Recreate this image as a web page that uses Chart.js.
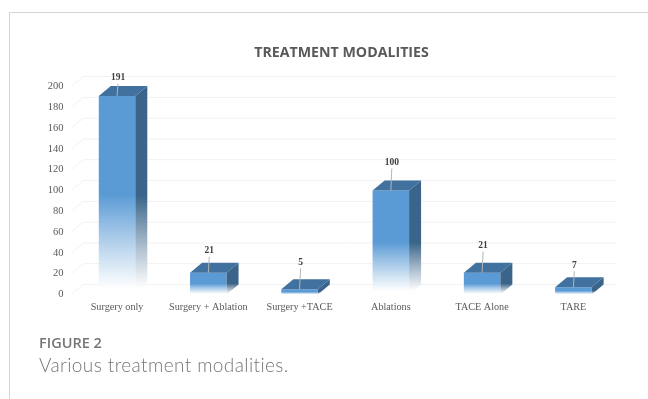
<!DOCTYPE html>
<html>
<head>
<meta charset="utf-8">
<title>Treatment modalities</title>
<script src="https://cdn.jsdelivr.net/npm/chart.js@4"></script>
<style>
    html, body { margin: 0; padding: 0; background: #fff; }
    body { width: 648px; height: 399px; overflow: hidden; position: relative; }
    #card { position: absolute; left: 9px; top: 12px; right: 0; bottom: 0; border-left: 1px solid #d4d4d4; border-top: 1px solid #d4d4d4; }
    #wrap { position: absolute; left: 0; top: 0; width: 648px; height: 399px; }
    .caption { position: absolute; left: 39px; color: #757575; white-space: nowrap; }
    #fig { top: 333px; font: 600 14.5px "Open Sans", sans-serif; }
    #desc { top: 353px; font: 300 19px Lato, sans-serif; letter-spacing: 0.4px; }
</style>
</head>
<body>
<div id="card"></div>
<div id="wrap"><canvas id="chart"></canvas></div>
<div class="caption" id="fig">FIGURE 2</div>
<div class="caption" id="desc">Various treatment modalities.</div>
<script>
const categories = ["Surgery only", "Surgery + Ablation", "Surgery +TACE", "Ablations", "TACE Alone", "TARE"];
const patientCounts = [191, 21, 5, 100, 21, 7];

// how far above each bar's front edge its value label sits
const labelLift = [18, 22, 27, 28, 27, 22];

const depthX = 12;
const depthY = -10;

// back wall gridlines plus the short diagonal running out to the axis
const backWall = {
    id: "backWall",
    afterLayout(chart) {
        // centre the title on the card instead of the padded chart box
        chart.titleBlock.left += 64;
    },
    beforeDatasetsDraw(chart) {
        const { ctx, scales: { x, y } } = chart;
        ctx.save();
        ctx.strokeStyle = "#f1f1f1";
        ctx.lineWidth = 1;
        y.ticks.forEach(tick => {
            const py = y.getPixelForValue(tick.value);
            ctx.beginPath();
            ctx.moveTo(x.left, py);
            ctx.lineTo(x.left + depthX, py + depthY);
            ctx.lineTo(x.right - 3, py + depthY);
            ctx.stroke();
        });
        ctx.restore();
    }
};

function fadeDown(ctx, top, bottom, color) {
    const g = ctx.createLinearGradient(0, top, 0, bottom);
    g.addColorStop(0, color);
    g.addColorStop(0.5, color);
    g.addColorStop(0.97, "rgba(255,255,255,0.9)");
    g.addColorStop(1, "rgba(255,255,255,0)");
    return g;
}

// top and side faces, leader lines and value labels on every bar
const barFaces = {
    id: "barFaces",
    afterDatasetsDraw(chart) {
        const { ctx } = chart;
        const meta = chart.getDatasetMeta(0);
        ctx.save();
        meta.data.forEach((bar, i) => {
            const left = bar.x - bar.width / 2;
            const right = bar.x + bar.width / 2;

            ctx.fillStyle = fadeDown(ctx, bar.y, bar.base, "#3a6489");
            ctx.beginPath();
            ctx.moveTo(right, bar.y);
            ctx.lineTo(right + depthX, bar.y + depthY);
            ctx.lineTo(right + depthX, bar.base + depthY);
            ctx.lineTo(right, bar.base);
            ctx.closePath();
            ctx.fill();

            ctx.fillStyle = "#41719f";
            ctx.beginPath();
            ctx.moveTo(left, bar.y);
            ctx.lineTo(left + depthX, bar.y + depthY);
            ctx.lineTo(right + depthX, bar.y + depthY);
            ctx.lineTo(right, bar.y);
            ctx.closePath();
            ctx.fill();

            const labelY = bar.y - labelLift[i];
            ctx.strokeStyle = "#b5b5b5";
            ctx.lineWidth = 1;
            ctx.beginPath();
            ctx.moveTo(bar.x, bar.y);
            ctx.lineTo(bar.x + 1, labelY + 6);
            ctx.stroke();

            ctx.fillStyle = "#404040";
            ctx.font = "bold 9.5px 'Liberation Serif'";
            ctx.textAlign = "center";
            ctx.textBaseline = "middle";
            ctx.fillText(patientCounts[i], bar.x + 1, labelY);
        });
        ctx.restore();
    }
};

new Chart(document.getElementById("chart"), {
    type: "bar",
    data: {
        labels: categories,
        datasets: [{
            data: patientCounts,
            barPercentage: 0.4,
            categoryPercentage: 1,
            backgroundColor: c => {
                const yScale = c.chart.scales.y;
                const top = yScale ? yScale.getPixelForValue(patientCounts[c.dataIndex]) : NaN;
                const bottom = yScale ? yScale.getPixelForValue(0) : NaN;
                // scale has no pixels yet on the first pass
                if (!Number.isFinite(top) || !Number.isFinite(bottom)) return "#5b9bd5";
                return fadeDown(c.chart.ctx, top, bottom, "#5b9bd5");
            }
        }]
    },
    options: {
        responsive: true,
        maintainAspectRatio: false,
        animation: false,
        layout: { padding: { top: 44, right: 29, bottom: 0, left: 0 } },
        plugins: {
            legend: { display: false },
            tooltip: { enabled: false },
            title: {
                display: true,
                text: "TREATMENT MODALITIES",
                color: "#595959",
                font: { family: "'Open Sans'", size: 14.2, weight: "bold" },
                padding: { top: 0, bottom: 25.5 }
            }
        },
        scales: {
            x: {
                grid: { display: false },
                border: { display: false },
                ticks: { color: "#595959", font: { family: "'Liberation Serif'", size: 10.2 }, maxRotation: 0, autoSkip: false, padding: -1.5 },
                afterFit(scale) { scale.height = 104.5; }
            },
            y: {
                min: 0,
                max: 200,
                grid: { display: false },
                border: { display: false },
                ticks: { stepSize: 20, color: "#595959", font: { family: "'Liberation Serif'", size: 10.5 }, padding: 0 },
                afterFit(scale) { scale.width = 71.4; }
            }
        }
    },
    plugins: [backWall, barFaces]
});
</script>
</body>
</html>
